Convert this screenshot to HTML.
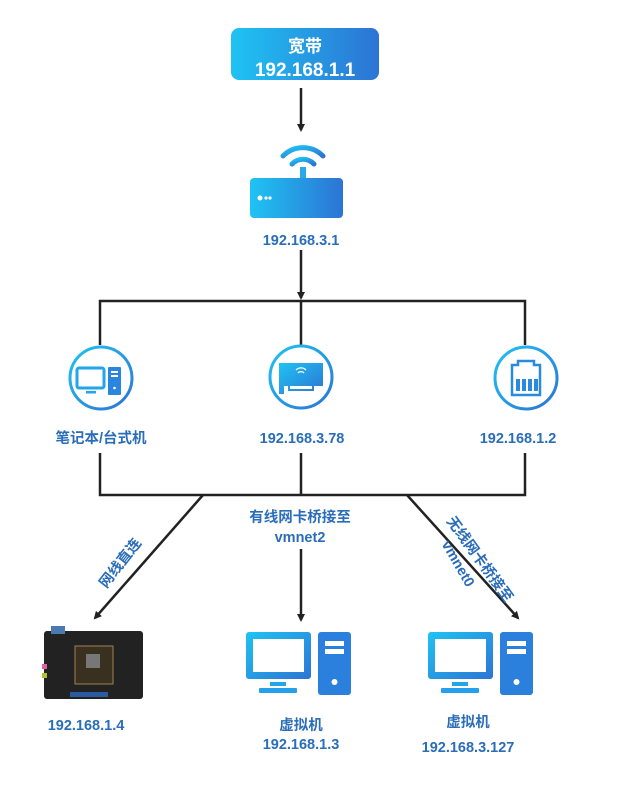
<!DOCTYPE html>
<html><head><meta charset="utf-8"><style>
html,body{margin:0;padding:0;background:#fff}
svg text{font-family:"Liberation Sans","Noto Sans CJK SC",sans-serif;font-weight:bold;fill:#2a6db8}
</style></head><body>
<svg width="635" height="784" viewBox="0 0 635 784" xmlns="http://www.w3.org/2000/svg">
<defs>
<linearGradient id="g" x1="0" y1="0" x2="1" y2="1"><stop offset="0" stop-color="#1fc3f3"/><stop offset="1" stop-color="#2c74d4"/></linearGradient>
<linearGradient id="gh" x1="0" y1="0" x2="1" y2="0"><stop offset="0" stop-color="#1fc3f3"/><stop offset="1" stop-color="#2c74d4"/></linearGradient>
<marker id="a" markerWidth="8" markerHeight="8" refX="6" refY="4" orient="auto" markerUnits="userSpaceOnUse"><path d="M0,0 L8,4 L0,8 Z" fill="#222"/></marker>
</defs>
<rect x="231" y="28" width="148" height="52" rx="8" fill="url(#gh)"/>
<text x="305" y="52" text-anchor="middle" font-size="17" style="fill:#fff">宽带</text>
<text x="305" y="76" text-anchor="middle" font-size="19" style="fill:#fff">192.168.1.1</text>
<g stroke="#222" stroke-width="2.5" fill="none">
<line x1="301" y1="88" x2="301" y2="130" marker-end="url(#a)"/>
<line x1="301" y1="250" x2="301" y2="298" marker-end="url(#a)"/>
<polyline points="100,345 100,301 525,301 525,345"/>
<line x1="301" y1="301" x2="301" y2="345"/>
<polyline points="100,453 100,495 525,495 525,453"/>
<line x1="301" y1="453" x2="301" y2="495"/>
<line x1="203" y1="495" x2="95" y2="618" marker-end="url(#a)"/>
<line x1="301" y1="549" x2="301" y2="620" marker-end="url(#a)"/>
<line x1="407" y1="495" x2="518" y2="618" marker-end="url(#a)"/>
</g>
<!-- router -->
<g fill="none" stroke="url(#g)" stroke-width="5" stroke-linecap="round">
<path d="M283,156 A28,28 0 0 1 323,156"/>
<path d="M292,164 A15,15 0 0 1 314,164"/>
</g>
<rect x="300" y="167" width="6" height="14" fill="#2aa8ea"/>
<rect x="250" y="178" width="93" height="40" rx="4" fill="url(#gh)"/>
<circle cx="260" cy="198" r="2.5" fill="#fff"/><circle cx="266" cy="198" r="1.6" fill="#fff"/><circle cx="270" cy="198" r="1.6" fill="#fff"/>
<text x="301" y="245" text-anchor="middle" font-size="14.5">192.168.3.1</text>
<!-- circles -->
<g fill="none" stroke="url(#g)" stroke-width="3">
<circle cx="101" cy="378" r="31"/><circle cx="301" cy="377" r="31"/><circle cx="526" cy="378" r="31"/>
</g>
<rect x="77" y="368" width="27" height="20" rx="2" fill="none" stroke="#22a6ea" stroke-width="3"/>
<rect x="86" y="391" width="10" height="2.5" fill="#22a6ea"/>
<rect x="108" y="367" width="13" height="28" rx="1" fill="#2a86dc"/>
<rect x="111" y="371" width="7" height="2" fill="#fff"/><rect x="111" y="375" width="7" height="2" fill="#fff"/><circle cx="114.5" cy="388" r="1.3" fill="#fff"/>
<path d="M279,363 h44 v23 h-9 v5 h-26 v-5 h-4 v8 h-5 z" fill="url(#g)"/>
<g fill="#fff"><rect x="290" y="386" width="22" height="3"/></g>
<path d="M296,370 a7,7 0 0 1 10,0 M298,373 a4,4 0 0 1 6,0" stroke="#fff" stroke-width="1.3" fill="none"/>
<path d="M512,365 h6 v-4 h16 v4 h6 v30 h-28 z" fill="none" stroke="#2a8ae0" stroke-width="2.5"/>
<g fill="#2a8ae0"><rect x="516" y="379" width="4" height="12"/><rect x="522" y="379" width="4" height="12"/><rect x="528" y="379" width="4" height="12"/><rect x="534" y="379" width="4" height="12"/></g>
<text x="101" y="443" text-anchor="middle" font-size="14.5">笔记本/台式机</text>
<text x="302" y="443" text-anchor="middle" font-size="14.5">192.168.3.78</text>
<text x="518" y="443" text-anchor="middle" font-size="14.5">192.168.1.2</text>
<text x="300" y="522" text-anchor="middle" font-size="14.5">有线网卡桥接至</text>
<text x="300" y="542" text-anchor="middle" font-size="14.5">vmnet2</text>
<text x="124" y="566" text-anchor="middle" font-size="14.5" transform="rotate(-52 124 566)">网线直连</text>
<text x="476" y="562" text-anchor="middle" font-size="14.5" transform="rotate(54 476 562)">无线网卡桥接至</text>
<text x="454" y="566" text-anchor="middle" font-size="14.5" transform="rotate(60 454 566)">vmnet0</text>
<!-- board -->
<rect x="44" y="631" width="99" height="68" rx="3" fill="#222"/>
<rect x="75" y="646" width="38" height="38" fill="#3a3020" stroke="#a08050" stroke-width="1"/>
<rect x="86" y="654" width="14" height="14" fill="#777"/>
<rect x="70" y="692" width="38" height="5" fill="#2a5aa0"/>
<rect x="51" y="626" width="14" height="8" fill="#4a7ab0"/>
<rect x="42" y="664" width="5" height="5" fill="#e060a0"/><rect x="42" y="673" width="5" height="5" fill="#b0c030"/>
<!-- VMs -->
<g>
<rect x="246" y="632" width="65" height="47" rx="3" fill="url(#g)"/><rect x="253" y="639" width="51" height="33" fill="#fff"/>
<rect x="270" y="682" width="16" height="4" fill="#22a6ea"/><rect x="259" y="688" width="38" height="5" rx="1" fill="#25a0ea"/>
<rect x="318" y="632" width="33" height="63" rx="3" fill="#2a80dc"/><rect x="325" y="641" width="19" height="5" fill="#fff"/><rect x="325" y="649" width="19" height="5" fill="#fff"/><circle cx="334.5" cy="682" r="3" fill="#fff"/>
</g>
<g transform="translate(182,0)">
<rect x="246" y="632" width="65" height="47" rx="3" fill="url(#g)"/><rect x="253" y="639" width="51" height="33" fill="#fff"/>
<rect x="270" y="682" width="16" height="4" fill="#22a6ea"/><rect x="259" y="688" width="38" height="5" rx="1" fill="#25a0ea"/>
<rect x="318" y="632" width="33" height="63" rx="3" fill="#2a80dc"/><rect x="325" y="641" width="19" height="5" fill="#fff"/><rect x="325" y="649" width="19" height="5" fill="#fff"/><circle cx="334.5" cy="682" r="3" fill="#fff"/>
</g>
<text x="86" y="730" text-anchor="middle" font-size="14.5">192.168.1.4</text>
<text x="301" y="730" text-anchor="middle" font-size="14.5">虚拟机</text>
<text x="301" y="749" text-anchor="middle" font-size="14.5">192.168.1.3</text>
<text x="468" y="727" text-anchor="middle" font-size="14.5">虚拟机</text>
<text x="468" y="752" text-anchor="middle" font-size="14.5">192.168.3.127</text>
</svg>
</body></html>
